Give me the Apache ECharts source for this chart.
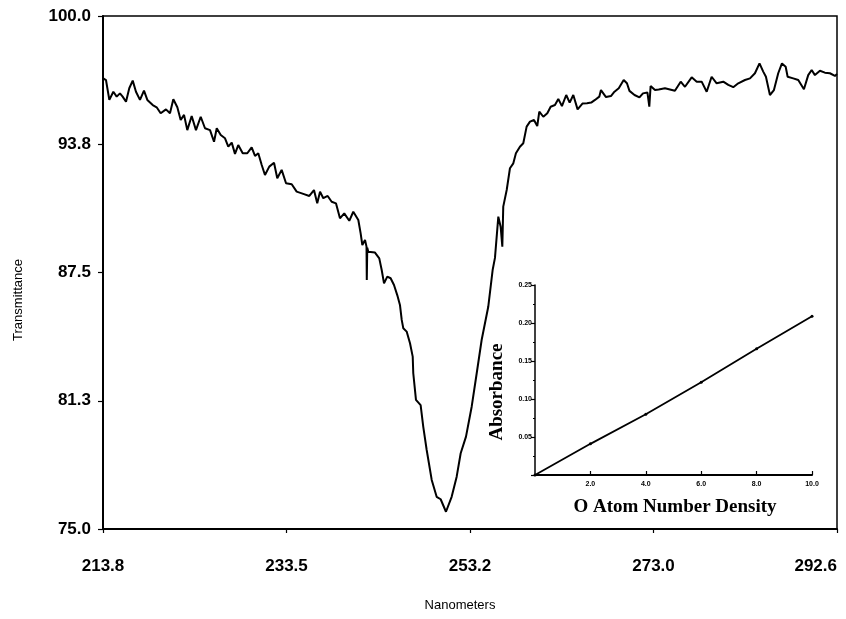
<!DOCTYPE html>
<html>
<head>
<meta charset="utf-8">
<title>Transmittance spectrum</title>
<script src="https://cdn.jsdelivr.net/npm/echarts@6/dist/echarts.min.js"></script>
<style>
  html, body { margin: 0; padding: 0; background: #fff; }
  #chart { width: 846px; height: 619px; }
</style>
</head>
<body>
<div id="chart"></div>
<script>
// Wavelength (nm) of each sample of the trace
const wavelength = [
  213.83, 214.12, 214.48, 214.91, 215.27, 215.62, 215.91, 216.27, 216.62, 216.99,
  217.34, 217.77, 218.20, 218.56, 219.14, 219.56, 219.99, 220.56, 220.99, 221.35,
  221.78, 222.14, 222.50, 222.85, 223.32, 223.78, 224.29, 224.75, 225.29, 225.72,
  226.01, 226.44, 226.90, 227.25, 227.62, 227.97, 228.32, 228.80, 229.29, 229.76,
  230.12, 230.47, 230.84, 231.19, 231.65, 232.16, 232.51, 232.98, 233.45, 234.06,
  234.59, 235.30, 235.95, 236.45, 236.80, 237.10, 237.45, 237.92, 238.35, 238.81,
  239.24, 239.70, 240.24, 240.67, 241.21, 241.46, 241.64, 241.93, 242.09, 242.12,
  242.17, 242.28, 243.00, 243.46, 243.72, 243.97, 244.32, 244.68, 245.04, 245.39,
  245.68, 245.87, 246.04, 246.40, 246.76, 247.05, 247.11, 247.40, 247.90, 248.18,
  248.55, 249.09, 249.62, 250.05, 250.62, 251.23, 251.77, 252.20, 252.77, 253.38,
  253.92, 254.45, 255.16, 255.63, 255.88, 256.24, 256.49, 256.67, 256.77, 257.14,
  257.49, 257.85, 258.13, 258.56, 258.92, 259.28, 259.64, 260.07, 260.42, 260.64,
  261.07, 261.50, 261.86, 262.32, 262.68, 263.07, 263.53, 263.90, 264.29, 264.75,
  265.27, 265.76, 266.21, 266.62, 267.08, 267.26, 267.80, 268.33, 268.71, 269.17,
  269.70, 270.05, 270.32, 270.86, 271.39, 271.77, 272.25, 272.45, 272.59, 273.06,
  273.46, 274.13, 275.20, 275.82, 276.28, 277.00, 277.54, 278.07, 278.61, 279.14,
  279.68, 280.39, 280.93, 281.46, 282.00, 282.72, 283.26, 283.79, 284.28, 284.68,
  284.97, 285.40, 285.83, 286.29, 286.69, 287.09, 287.30, 287.90, 288.44, 289.05,
  289.51, 289.88, 290.23, 290.77, 291.30, 291.84, 292.38, 292.60
];

// Percent transmittance at each wavelength
const transmittance = [
  96.96, 96.88, 95.91, 96.31, 96.07, 96.23, 96.07, 95.82, 96.48, 96.85,
  96.31, 95.91, 96.36, 95.91, 95.66, 95.55, 95.26, 95.45, 95.26, 95.94,
  95.55, 94.93, 95.18, 94.44, 95.13, 94.44, 95.09, 94.53, 94.44, 93.87,
  94.53, 94.20, 94.04, 93.63, 93.83, 93.28, 93.71, 93.31, 93.31, 93.60,
  93.18, 93.31, 92.74, 92.25, 92.66, 92.85, 92.09, 92.50, 91.85, 91.80,
  91.44, 91.33, 91.23, 91.52, 90.87, 91.44, 91.12, 91.23, 90.95, 90.87,
  90.14, 90.38, 90.02, 90.46, 90.06, 89.41, 88.84, 89.08, 88.76, 87.13,
  88.70, 88.51, 88.47, 88.19, 87.62, 86.97, 87.30, 87.22, 86.89, 86.40,
  85.92, 85.19, 84.78, 84.62, 84.05, 83.40, 82.59, 81.29, 81.04, 79.99,
  78.85, 77.39, 76.57, 76.45, 75.84, 76.57, 77.55, 78.69, 79.50, 80.96,
  82.59, 84.21, 85.83, 87.62, 88.21, 90.22, 89.73, 88.76, 90.71, 91.52,
  92.58, 92.82, 93.31, 93.63, 93.80, 94.61, 94.85, 94.93, 94.64, 95.34,
  95.09, 95.26, 95.58, 95.66, 95.96, 95.61, 96.15, 95.78, 96.15, 95.45,
  95.73, 95.75, 95.78, 95.91, 96.07, 96.39, 96.05, 96.10, 96.31, 96.48,
  96.88, 96.72, 96.35, 96.15, 96.03, 96.23, 96.27, 95.58, 96.59, 96.39,
  96.42, 96.48, 96.36, 96.80, 96.55, 97.01, 96.80, 96.80, 96.31, 97.04,
  96.72, 96.80, 96.64, 96.53, 96.72, 96.88, 96.96, 97.21, 97.69, 97.29,
  97.04, 96.15, 96.39, 97.21, 97.69, 97.53, 97.04, 96.96, 96.88, 96.43,
  97.12, 97.37, 97.12, 97.33, 97.24, 97.21, 97.08, 97.17
];

// Tick positions and their printed labels
const xTickValues = [213.8, 233.5, 253.2, 272.9, 292.6];
const xTickLabels = ['213.8', '233.5', '253.2', '273.0', '292.6'];
const yTickValues = [75, 81.25, 87.5, 93.75, 100];
const yTickLabels = ['75.0', '81.3', '87.5', '93.8', '100.0'];

// Calibration inset: absorbance against O atom number density
const densityValues = [0, 2, 4, 6, 8, 10];
const absorbanceValues = [0, 0.041, 0.080, 0.122, 0.166, 0.209];
const insetXLabels = ['0', '2.0', '4.0', '6.0', '8.0', '10.0'];
const insetYValues = [0, 0.05, 0.1, 0.15, 0.2, 0.25];
const insetYLabels = ['0', '0.05', '0.10', '0.15', '0.20', '0.25'];

const spectrum = wavelength.map((w, i) => [w, transmittance[i]]);
const calibration = densityValues.map((d, i) => [d, absorbanceValues[i]]);

function labelFor(values, labels, v) {
  for (let i = 0; i < values.length; i++) {
    if (Math.abs(values[i] - v) < 1e-6) return labels[i];
  }
  return '';
}

const sans = 'Liberation Sans, Arial, Helvetica, sans-serif';
const serif = 'Liberation Serif, Times New Roman, serif';

const chart = echarts.init(document.getElementById('chart'), null, { renderer: 'canvas' });

chart.setOption({
  animation: false,
  backgroundColor: '#ffffff',
  grid: [
    { left: 103, right: 9, top: 16, bottom: 90, show: true, borderColor: '#000', borderWidth: 1.5, backgroundColor: 'transparent' },
    { left: 535, top: 285, width: 277, height: 190 }
  ],
  xAxis: [
    {
      gridIndex: 0,
      type: 'value',
      min: 213.8,
      max: 292.6,
      axisLine: { show: true, onZero: false, lineStyle: { color: '#000', width: 2 } },
      axisTick: { show: true, length: 4, customValues: xTickValues, lineStyle: { color: '#000', width: 1.2 } },
      axisLabel: {
        customValues: xTickValues,
        margin: 29,
        color: '#000',
        fontFamily: sans,
        fontSize: 17,
        fontWeight: 'bold',
        alignMaxLabel: 'right',
        formatter: v => labelFor(xTickValues, xTickLabels, v)
      },
      splitLine: { show: false }
    },
    {
      gridIndex: 1,
      type: 'value',
      min: 0,
      max: 10,
      interval: 2,
      axisLine: { show: true, onZero: false, lineStyle: { color: '#000', width: 2 } },
      axisTick: { show: true, inside: true, length: 4, lineStyle: { color: '#000', width: 1.2 } },
      axisLabel: {
        showMinLabel: false,
        margin: 6,
        color: '#000',
        fontFamily: sans,
        fontSize: 7,
        fontWeight: 'bold',
        formatter: v => labelFor(densityValues, insetXLabels, v)
      },
      splitLine: { show: false }
    }
  ],
  yAxis: [
    {
      gridIndex: 0,
      type: 'value',
      min: 75,
      max: 100,
      interval: 6.25,
      axisLine: { show: true, onZero: false, lineStyle: { color: '#000', width: 2 } },
      axisTick: { show: true, length: 5, lineStyle: { color: '#000', width: 1.2 } },
      axisLabel: {
        margin: 12,
        color: '#000',
        fontFamily: sans,
        fontSize: 17,
        fontWeight: 'bold',
        formatter: v => labelFor(yTickValues, yTickLabels, v)
      },
      splitLine: { show: false }
    },
    {
      gridIndex: 1,
      type: 'value',
      min: 0,
      max: 0.25,
      interval: 0.05,
      axisLine: { show: true, onZero: false, lineStyle: { color: '#000', width: 1.5 } },
      axisTick: { show: true, length: 4, lineStyle: { color: '#000', width: 1.2 } },
      minorTick: { show: true, splitNumber: 2, length: 2, lineStyle: { color: '#000', width: 1 } },
      axisLabel: {
        showMinLabel: false,
        margin: 3,
        color: '#000',
        fontFamily: sans,
        fontSize: 7,
        fontWeight: 'bold',
        formatter: v => labelFor(insetYValues, insetYLabels, v)
      },
      splitLine: { show: false }
    }
  ],
  graphic: [
    {
      type: 'text', x: 18, y: 300, rotation: Math.PI / 2,
      style: { text: 'Transmittance', fill: '#000', font: '13px ' + sans, textAlign: 'center', textVerticalAlign: 'middle' }
    },
    {
      type: 'text', x: 460, y: 605,
      style: { text: 'Nanometers', fill: '#000', font: '13px ' + sans, textAlign: 'center', textVerticalAlign: 'middle' }
    },
    {
      type: 'text', x: 497, y: 392, rotation: Math.PI / 2,
      style: { text: 'Absorbance', fill: '#000', font: 'bold 19px ' + serif, textAlign: 'center', textVerticalAlign: 'middle' }
    },
    {
      type: 'text', x: 675, y: 507,
      style: { text: 'O Atom Number Density', fill: '#000', font: 'bold 19px ' + serif, textAlign: 'center', textVerticalAlign: 'middle' }
    }
  ],
  series: [
    {
      type: 'line',
      xAxisIndex: 0,
      yAxisIndex: 0,
      data: spectrum,
      showSymbol: false,
      lineStyle: { color: '#000', width: 2 },
      silent: true
    },
    {
      type: 'line',
      xAxisIndex: 1,
      yAxisIndex: 1,
      data: calibration,
      symbol: 'circle',
      symbolSize: 3,
      itemStyle: { color: '#000' },
      lineStyle: { color: '#000', width: 1.8 },
      silent: true
    }
  ]
});
</script>
</body>
</html>
